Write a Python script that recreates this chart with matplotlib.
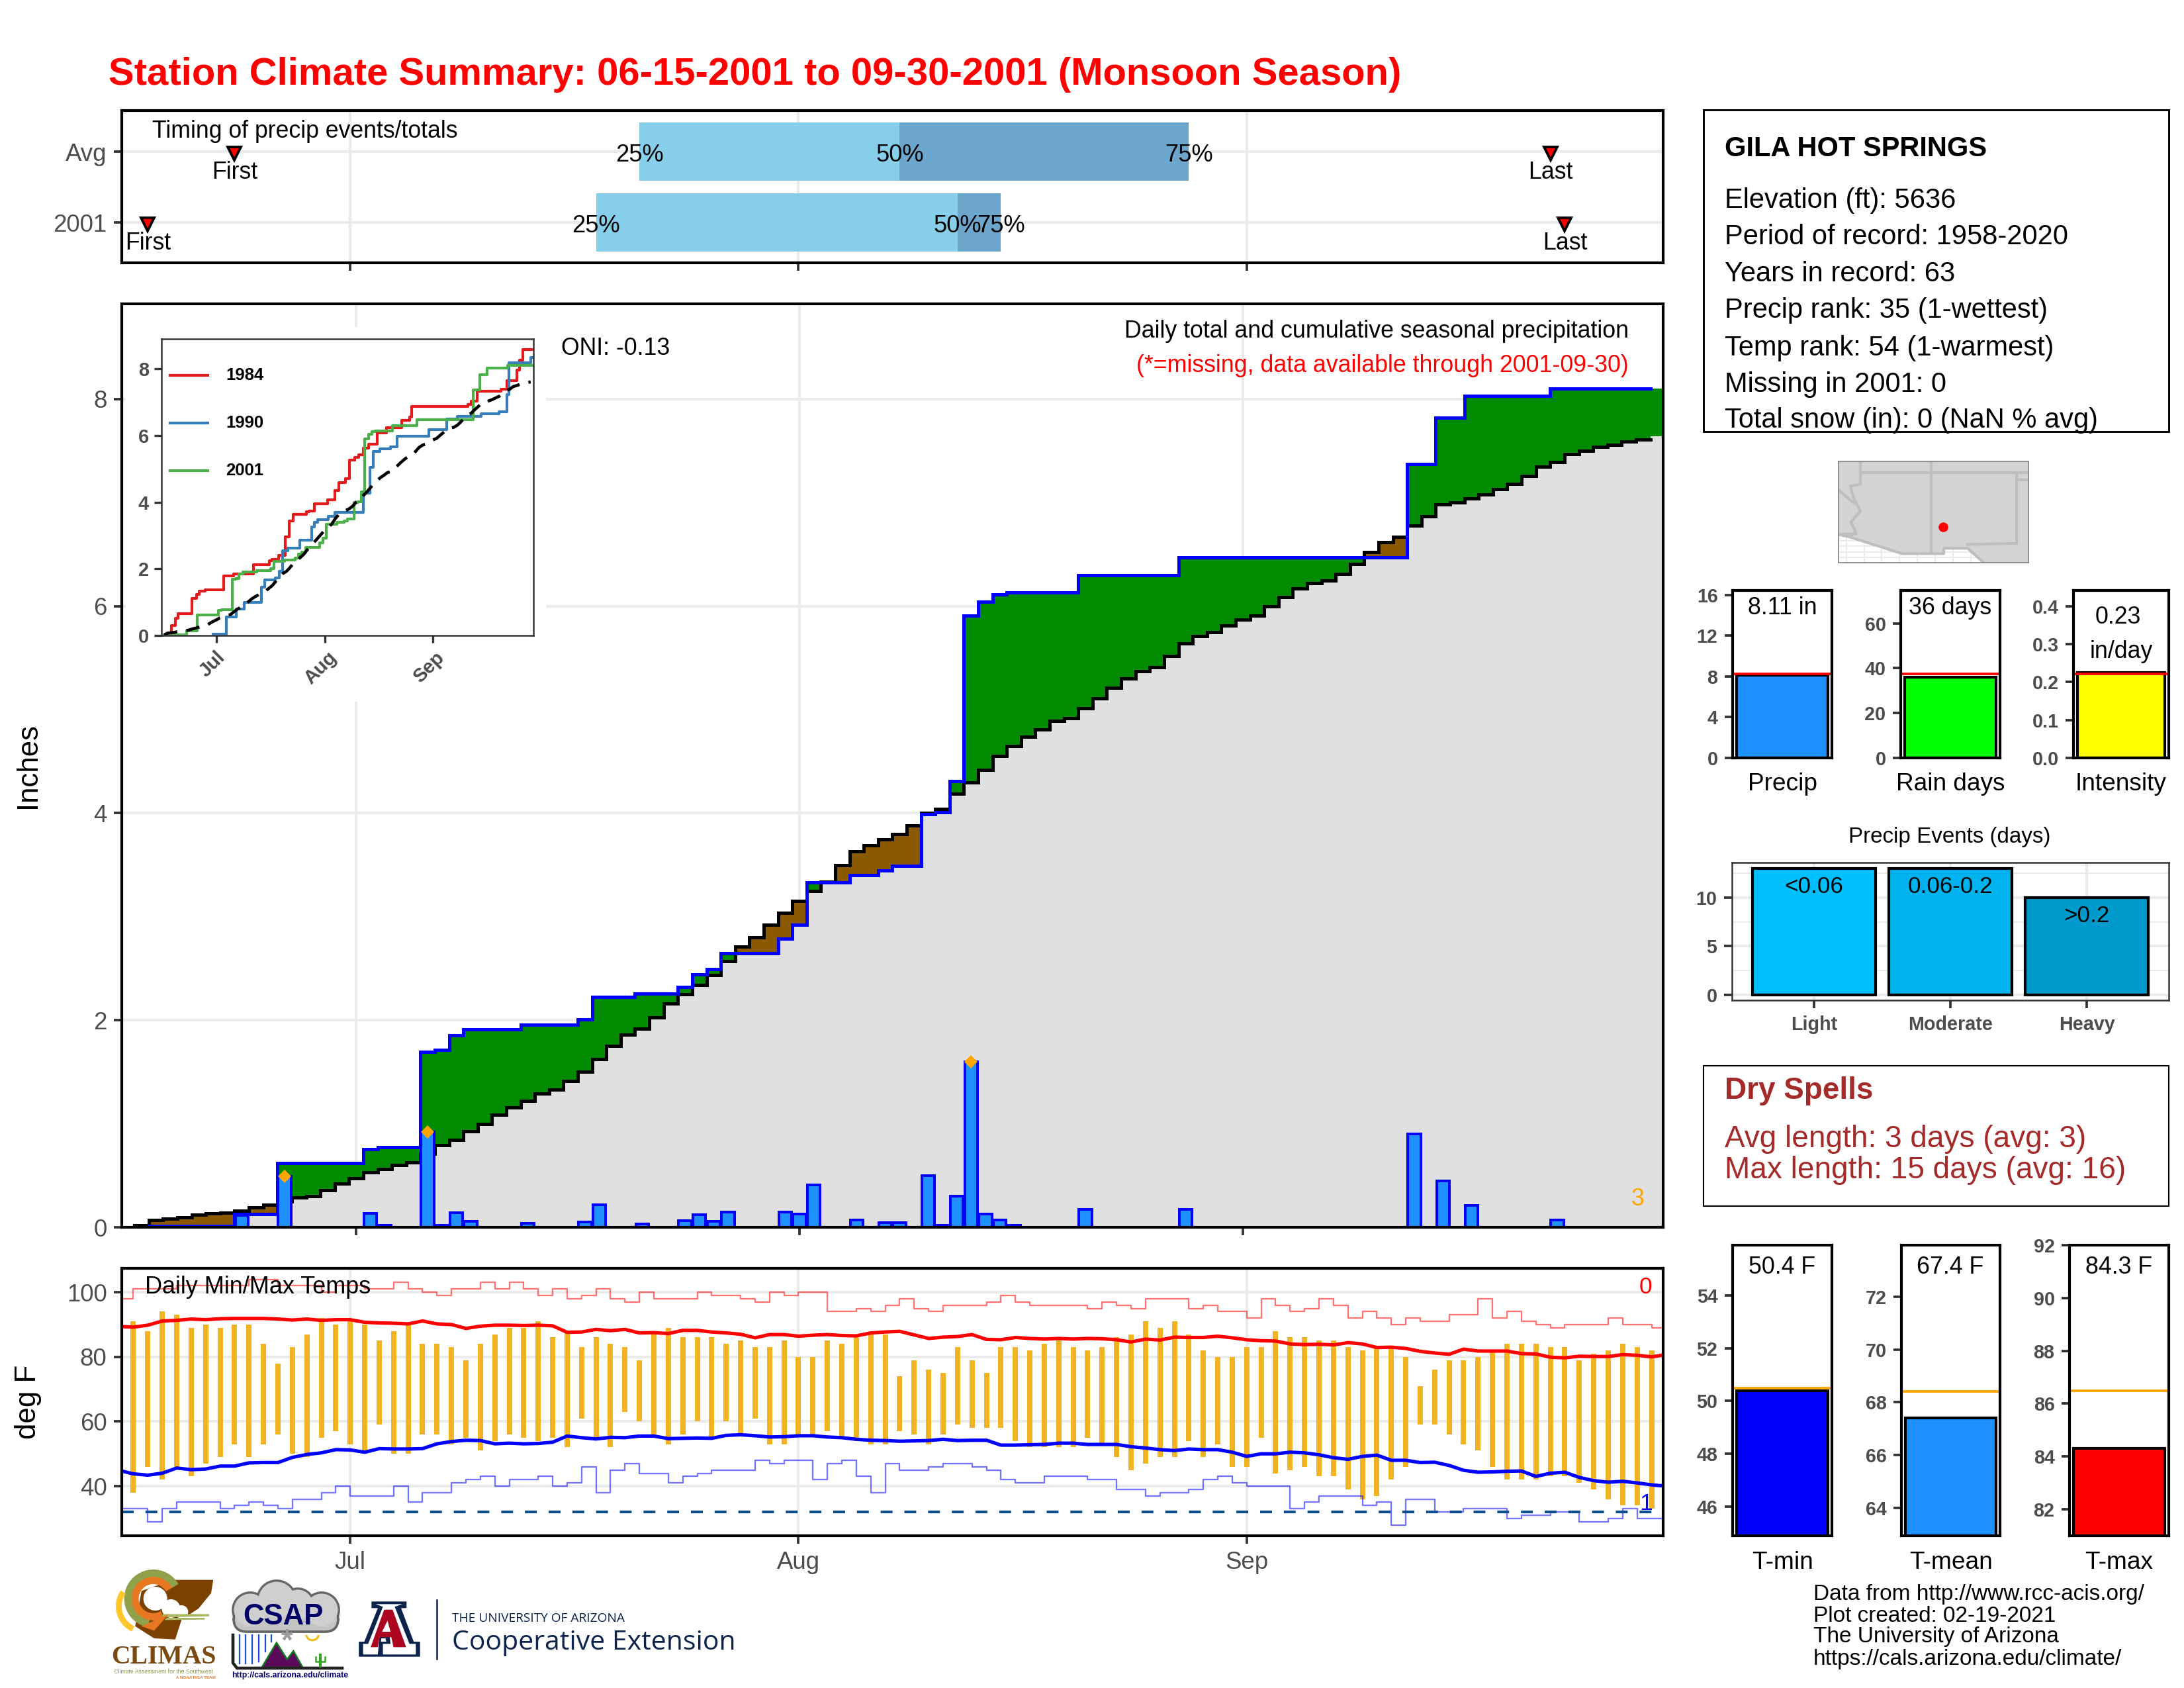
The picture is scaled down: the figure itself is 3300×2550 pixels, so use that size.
import numpy as np
import matplotlib
matplotlib.use("Agg")
import matplotlib.pyplot as plt
from matplotlib.patches import Polygon, Circle, Rectangle, Wedge, FancyBboxPatch
from matplotlib.transforms import ScaledTranslation

plt.rcParams['font.family'] = ['Liberation Sans', 'DejaVu Sans']

W, H, DPI = 3300, 2550, 300
PT = 72 / DPI
GREY = '#4D4D4D'
GRID = '#EBEBEB'
TICK = '#333333'

# ---------- precipitation (day index: 15 Jun = 0) ----------
rain_days = [2, 8, 11, 17, 18, 21, 22, 23, 24, 28, 32, 33, 36, 39, 40, 41, 42, 46, 47, 48, 51, 53, 54, 56, 57,
             58, 59, 60, 61, 62, 67, 74, 90, 92, 94, 100]
rain_amounts = [.015, .115, .49, .135, .02, .92, .02, .14, .06, .04, .05, .22, .03, .065, .12, .055, .15, .145,
                .13, .41, .07, .045, .045, .50, .02, .30, 1.60, .13, .07, .02, .17, .17, .90, .45, .21, .07]
avg_cum = [.02, .07, .08, .095, .12, .135, .14, .16, .195, .22, .25, .285, .30, .36, .42, .47, .53, .56, .60, .625,
           .71, .79, .845, .93, 1.0, 1.09, 1.16, 1.22, 1.29, 1.33, 1.415, 1.50, 1.625, 1.755, 1.86, 1.92, 2.03,
           2.16, 2.25, 2.34, 2.435, 2.57, 2.71, 2.80, 2.92, 3.04, 3.15, 3.25, 3.34, 3.50, 3.63, 3.69, 3.75, 3.80,
           3.88, 4.0, 4.04, 4.19, 4.30, 4.42, 4.55, 4.65, 4.74, 4.81, 4.89, 4.92, 5.01, 5.11, 5.21, 5.30, 5.37,
           5.41, 5.52, 5.64, 5.71, 5.75, 5.81, 5.87, 5.91, 6.00, 6.09, 6.17, 6.22, 6.25, 6.31, 6.41, 6.52, 6.62,
           6.67, 6.78, 6.87, 6.98, 7.00, 7.04, 7.08, 7.13, 7.18, 7.26, 7.35, 7.39, 7.47, 7.50, 7.54, 7.56, 7.59,
           7.61]
top3_days = [11, 21, 59]
month_names = ['Jul', 'Aug', 'Sep']
month_days = [16, 47, 78]

# ---------- inset analog years ----------
y1984_days = [0, 3, 4.2, 5, 9, 10.3, 11, 12.7, 18.1, 20.9, 26.6, 31.2, 32, 33.9, 35.7, 36.9, 38, 41.7, 42.6, 44, 47.8,
              50, 51, 53, 54, 55.6, 56.8, 58, 59.5, 62, 64.7, 69, 71.4, 72, 88, 89, 90.7, 97.6, 99.2, 102, 102.8,
              103.8, 107]
y1984_vals = [0, .30, .51, .65, 1.12, 1.23, 1.33, 1.38, 1.79, 1.84, 2.12, 2.24, 2.28, 2.41, 2.96, 3.44, 3.645, 3.71,
              3.74, 3.95, 4.07, 4.35, 4.58, 4.71, 5.27, 5.34, 5.42, 5.62, 5.75, 6.07, 6.24, 6.46, 6.55, 6.87, 6.93,
              7.04, 7.34, 7.40, 7.65, 7.97, 8.27, 8.58, 8.58]
y1990_days = [15, 18.8, 21.6, 24, 28.9, 29.9, 32.9, 34, 35, 36.4, 39.8, 43.2, 44, 44.9, 48, 49.9, 58, 59.9, 61, 62.9,
              65.9, 67.7, 76.8, 81.9, 85, 91.9, 97, 99.2, 99.8, 106, 107]
y1990_vals = [.03, .55, .79, 1.0, 1.46, 1.67, 1.73, 1.92, 2.55, 2.63, 2.87, 3.25, 3.40, 3.48, 3.58, 3.69, 4.28, 5.04,
              5.53, 5.61, 5.67, 5.97, 6.18, 6.50, 6.58, 6.65, 6.71, 7.24, 8.18, 8.35, 8.35]

# ---------- timing panel ----------
timing_rows = ['2001', 'Avg']
pct25 = [33, 36]
pct50 = [58, 54]
pct75 = [61, 74]
first_day = [2, 8]
last_day = [100, 99]

# ---------- temperature ----------
t_max = [91, 88, 94, 93, 89, 90, 89, 90, 90, 84, 78, 83, 87, 92, 90, 91, 90, 85, 88, 90, 84, 84, 83, 79, 84, 87, 89, 89,
         91, 86, 88, 83, 86, 84, 83, 79, 88, 89, 86, 86, 86, 84, 85, 83, 83, 85, 80, 80, 85, 84, 86, 87, 87, 74, 79, 76,
         75, 83, 79, 75, 83, 83, 82, 84, 85, 83, 82, 83, 86, 87, 91, 89, 91, 87, 82, 80, 80, 83, 83, 88, 86, 86, 85, 85,
         83, 82, 83, 83, 80, 71, 76, 79, 79, 80, 82, 84, 84, 84, 83, 83, 79, 81, 82, 84, 83, 82]
t_min = [38, 46, 42, 46, 43, 47, 49, 53, 49, 53, 56, 50, 49, 55, 57, 53, 50, 59, 50, 50, 56, 56, 53, 55, 51, 54, 56, 55,
         54, 55, 52, 61, 55, 52, 63, 60, 56, 53, 56, 60, 55, 60, 56, 61, 53, 53, 56, 56, 57, 55, 54, 53, 53, 57, 56, 53,
         56, 59, 58, 58, 58, 54, 52, 52, 52, 52, 55, 53, 49, 45, 47, 49, 49, 54, 49, 53, 46, 46, 55, 44, 45, 46, 43, 43,
         39, 36, 37, 42, 46, 59, 59, 56, 53, 51, 46, 42, 42, 42, 43, 43, 41, 39, 36, 34, 34, 33]
rec_hi = [98, 101, 101, 101, 102, 102, 102, 102, 102, 104, 104, 102, 102, 102, 100, 102, 102, 101, 101, 103, 101, 100, 99,
          101, 101, 103, 101, 103, 101, 99, 101, 98, 99, 101, 98, 97, 100, 98, 98, 98, 100, 99, 99, 98, 97, 100, 99, 100,
          100, 94, 94, 95, 94, 96, 98, 95, 94, 96, 96, 96, 97, 99, 97, 96, 96, 96, 96, 95, 97, 96, 95, 98, 98, 98, 95, 96,
          94, 94, 92, 98, 96, 94, 95, 98, 96, 92, 94, 92, 90, 92, 91, 91, 93, 93, 98, 92, 94, 91, 90, 89, 90, 90, 90, 92,
          90, 90, 89]
rec_lo = [33, 33, 29, 33, 35, 35, 35, 33, 34, 35, 34, 33, 36, 36, 38, 40, 37, 37, 37, 40, 35, 38, 38, 41, 42, 43, 40, 42,
          42, 43, 40, 41, 46, 38, 45, 47, 44, 44, 41, 43, 44, 45, 45, 45, 48, 47, 48, 48, 42, 47, 48, 43, 38, 47, 45, 45,
          46, 47, 47, 46, 45, 42, 41, 41, 43, 43, 43, 42, 42, 39, 39, 37, 38, 38, 39, 42, 43, 41, 40, 40, 40, 33, 35, 37,
          37, 37, 34, 35, 28, 36, 36, 32, 32, 33, 33, 33, 30, 31, 31, 32, 32, 29, 29, 30, 33, 30, 30]
norm_hi = [89.4, 89.2, 89.8, 91.1, 91.3, 91.7, 91.5, 91.8, 91.9, 91.9, 91.9, 91.7, 91.4, 91.7, 91.3, 91.5, 91.5, 90.7,
           90.5, 90.4, 90.2, 91.1, 90.2, 90.0, 88.8, 89.5, 89.8, 89.8, 89.7, 89.8, 89.6, 87.6, 87.7, 88.5, 88.1, 88.5,
           87.4, 87.5, 87.2, 88.2, 88.2, 87.7, 87.4, 87.0, 85.9, 86.9, 86.9, 86.4, 86.7, 86.9, 86.6, 86.5, 87.4, 87.7,
           87.9, 86.8, 85.7, 86.1, 86.3, 86.9, 85.4, 85.3, 86.0, 85.7, 85.5, 85.7, 85.5, 85.7, 85.6, 85.3, 84.6, 85.5,
           85.2, 86.1, 86.0, 86.0, 86.4, 85.9, 85.3, 85.0, 84.9, 84.0, 83.8, 83.9, 83.7, 84.4, 84.0, 82.9, 83.0, 82.6,
           81.7, 81.2, 80.8, 82.4, 81.8, 81.8, 81.8, 81.0, 80.9, 79.9, 79.7, 80.2, 80.1, 80.1, 80.7, 80.5, 80.0, 80.7]
norm_lo = [44.9, 43.8, 43.4, 44.0, 45.6, 45.1, 45.3, 46.2, 46.2, 47.2, 47.3, 47.3, 48.9, 49.8, 50.3, 51.3, 51.2, 50.5,
           51.6, 51.5, 51.5, 51.6, 53.1, 53.8, 54.2, 54.1, 53.1, 53.3, 53.1, 53.2, 53.6, 55.5, 55.0, 54.6, 55.1, 55.0,
           55.5, 55.5, 54.7, 54.8, 54.9, 54.8, 55.7, 55.9, 55.6, 55.2, 55.3, 55.6, 55.6, 55.2, 55.0, 54.5, 54.2, 54.1,
           53.9, 54.0, 54.1, 54.5, 54.1, 54.2, 54.2, 52.7, 52.7, 52.8, 52.9, 53.3, 53.3, 52.9, 52.9, 52.9, 52.2, 51.8,
           51.3, 51.0, 51.5, 51.3, 51.3, 50.5, 49.2, 50.0, 50.0, 50.5, 50.3, 49.7, 48.8, 48.3, 49.2, 49.6, 48.0, 48.0,
           47.3, 47.4, 46.4, 44.9, 44.3, 44.4, 44.6, 44.7, 43.0, 44.0, 44.3, 42.7, 41.7, 41.2, 41.5, 41.0, 40.4, 40.0]

# ---------- side panels ----------
info_lines = ['Elevation (ft): 5636', 'Period of record: 1958-2020', 'Years in record: 63',
              'Precip rank: 35 (1-wettest)', 'Temp rank: 54 (1-warmest)', 'Missing in 2001: 0',
              'Total snow (in): 0 (NaN % avg)']
event_names = ['Light', 'Moderate', 'Heavy']
event_counts = [13, 13, 10]
event_labels = ['<0.06', '0.06-0.2', '>0.2']
event_colors = ['#00BFFF', '#00B2EE', '#009ACD']
footer_lines = ['Data from http://www.rcc-acis.org/', 'Plot created: 02-19-2021', 'The University of Arizona',
                'https://cals.arizona.edu/climate/']
# map outlines (lon, lat)
us_south_lon = [-115.54, -114.78, -111.07, -108.15, -108.15, -106.47, -105.34]
us_south_lat = [32.62, 32.46, 31.27, 31.27, 31.65, 31.65, 30.63]
station_lon, station_lat = -108.2, 33.16


def axpx(l, t, r, b, **kw):
    return fig.add_axes([l / W, 1 - b / H, (r - l) / W, (b - t) / H], **kw)


def base_style(ax, lw=1.0, color='black', size=8.8, weight='normal'):
    for s in ax.spines.values():
        s.set_linewidth(lw)
        s.set_color(color)
        s.set_zorder(20)
    ax.tick_params(length=2.9, width=0.9, color=TICK, labelcolor=GREY, labelsize=size, pad=2.5)
    for lab in ax.get_xticklabels() + ax.get_yticklabels():
        lab.set_fontweight(weight)
    ax.set_axisbelow(True)


fig = plt.figure(figsize=(W / DPI, H / DPI), dpi=DPI, facecolor='white')

# ================= timing =================
axT = axpx(184, 167, 2513, 397)
axT.set_xlim(0.2, 106.8)
axT.set_ylim(0.43, 2.58)
axT.set_yticks([1, 2], timing_rows)
axT.set_xticks(month_days, [''] * 3)
axT.grid(True, color=GRID, lw=1.0)
base_style(axT)
for r in range(2):
    y = r + 1
    axT.barh(y, pct50[r] - pct25[r], left=pct25[r], height=0.83, color='#87CEEB', zorder=2)
    axT.barh(y, pct75[r] - pct50[r], left=pct50[r], height=0.83, color='#6CA6CD', zorder=2)
    for v, t in zip((pct25[r], pct50[r], pct75[r]), ('25%', '50%', '75%')):
        axT.text(v, y - 0.05, t, ha='center', va='center', fontsize=8.7, color='black', zorder=5)
    for d, t in ((first_day[r], 'First'), (last_day[r], 'Last')):
        axT.plot([d], [y - 0.03], marker='v', ms=5.0, mfc='red', mec='black', mew=0.9, zorder=6)
        axT.text(d, y - 0.29, t, ha='center', va='center', fontsize=8.6, zorder=7)
axT.text(2.3, 2.29, 'Timing of precip events/totals', ha='left', va='center', fontsize=8.55, zorder=6)

# ================= main =================
daily = np.zeros(107)
daily[rain_days] = rain_amounts
cum = np.cumsum(daily)[1:]
days = np.arange(1, 107)
avg = np.array(avg_cum)
edges = np.r_[days - 0.5, 106.5]
rib_x = np.r_[days - 0.5, 106.5, 108]
rib_avg = np.r_[avg, 7.64, 7.64]
rib_cum = np.r_[cum, cum[-1], cum[-1]]

axM = axpx(184, 459, 2513, 1854)
axM.set_xlim(-0.39, 107.4)
axM.set_ylim(0, 8.92)
axM.set_yticks([0, 2, 4, 6, 8])
axM.set_xticks(month_days, [''] * 3)
axM.grid(True, color=GRID, lw=1.0, zorder=0)
base_style(axM)
axM.set_ylabel('Inches', fontsize=10.5, labelpad=0)
axM.yaxis.set_label_coords((63 - 184) / 2329, 0.5)
axM.fill_between(rib_x, 0, np.minimum(rib_avg, rib_cum), step='post', color='#E0E0E0', lw=0, zorder=2)
axM.fill_between(rib_x, rib_avg, np.maximum(rib_avg, rib_cum), step='post', color='#008B00', lw=0, zorder=3)
axM.fill_between(rib_x, rib_cum, np.maximum(rib_avg, rib_cum), step='post', color='#8B5A00', lw=0, zorder=3)
axM.step(edges, np.r_[avg, avg[-1]], where='post', color='black', lw=1.2, solid_joinstyle='miter', zorder=4)
axM.bar(rain_days, rain_amounts, width=0.9, color='#1E90FF', edgecolor='blue', lw=0.95, zorder=5)
axM.step(edges[1:], np.r_[cum[1:], cum[-1]], where='post', color='blue', lw=1.2, solid_joinstyle='miter', zorder=6)
axM.plot(top3_days, daily[top3_days], ls='none', marker='D', ms=3.4, mfc='orange', mec='orange', mew=0, zorder=7)
axM.text(105.6, 0.27, '3', color='orange', fontsize=8.6, ha='center', va='center', zorder=7)

# white plate and inset
axB = axpx(190, 494, 825, 1060, zorder=5)
axB.set_axis_off()
axB.add_patch(Rectangle((0, 0), 1, 1, transform=axB.transAxes, fc='white', ec='none'))
axI = axpx(244, 512, 806, 960, zorder=6)
axI.set_xlim(0.25, 106.8)
axI.set_ylim(0, 8.9)
axI.set_yticks([0, 2, 4, 6, 8])
axI.set_xticks(month_days, month_names)
base_style(axI, lw=0.6, color=TICK, size=7.0, weight='bold')
axI.tick_params(length=2.6, width=0.8, pad=2)
for lab in axI.get_xticklabels():
    lab.set_rotation(45)
    lab.set_ha('center')
    lab.set_transform(lab.get_transform() + ScaledTranslation(-6 / DPI, 0, fig.dpi_scale_trans))
axI.step(y1984_days, y1984_vals, where='post', color='#E41A1C', lw=1.0, label='1984')
axI.step(y1990_days, y1990_vals, where='post', color='#377EB8', lw=1.0, label='1990')
axI.step(edges, np.r_[cum, cum[-1]], where='post', color='#4DAF4A', lw=1.0, label='2001')
axI.plot(days, avg, color='black', lw=1.1, dashes=(4.5, 3))
for i, (c, t) in enumerate(zip(('#E41A1C', '#377EB8', '#4DAF4A'), ('1984', '1990', '2001'))):
    y = [566, 638, 710][i]
    axI.plot([(257 - 244) / 562, (314 - 244) / 562], [1 - (y - 511) / 448] * 2, transform=axI.transAxes, color=c, lw=1.0)
    axI.text((341 - 244) / 562, 1 - (y - 511) / 448, t, transform=axI.transAxes, fontsize=6.2, fontweight='bold',
             ha='left', va='center')

# ================= temperatures =================
axC = axpx(184, 1916, 2513, 2320)
axC.set_xlim(0.2, 106.8)
axC.set_ylim(24.65, 107.4)
axC.set_yticks([40, 60, 80, 100])
axC.set_xticks(month_days, month_names)
axC.grid(True, color=GRID, lw=1.0, zorder=0)
base_style(axC)
axC.set_ylabel('deg F', fontsize=10.5)
axC.yaxis.set_label_coords((63 - 184) / 2329, 0.5)
tdays = np.arange(1, len(t_max) + 1)
axC.vlines(tdays, t_min, t_max, color='#F0B323', lw=8 * PT, capstyle='butt', zorder=3)
xr = np.arange(len(rec_hi) + 1)
axC.step(xr, rec_hi + rec_hi[-1:], where='post', color='red', lw=0.55, alpha=0.55, zorder=3)
xl = np.arange(len(rec_lo) + 1)
axC.step(xl, rec_lo + rec_lo[-1:], where='post', color='blue', lw=0.55, alpha=0.55, zorder=3)
axC.plot(np.arange(len(norm_hi)), norm_hi, color='red', lw=1.25, zorder=4)
axC.plot(np.arange(len(norm_lo)), norm_lo, color='blue', lw=1.25, zorder=4)
axC.axhline(32, color='#104E8B', lw=1.0, dashes=(4.3, 4.3), zorder=4)
axC.text(1.8, 101.6, 'Daily Min/Max Temps', fontsize=8.65, ha='left', va='center', zorder=6)
axC.text(105.6, 101.6, '0', color='red', fontsize=8.5, ha='center', va='center', zorder=6)
axC.text(105.6, 34.5, '1', color='blue', fontsize=8.5, ha='center', va='center', zorder=6)

# ================= right-hand boxes =================
ov = fig.add_axes([0, 0, 1, 1], zorder=10)
ov.set_xlim(0, W)
ov.set_ylim(H, 0)
ov.set_axis_off()
ov.patch.set_alpha(0)

ov.text(164, 113, 'Station Climate Summary: 06-15-2001 to 09-30-2001 (Monsoon Season)', color='red',
        fontweight='bold', fontsize=13.93, ha='left', va='center')
ov.text(848, 526, 'ONI: -0.13', fontsize=8.55, ha='left', va='center')
ov.text(2461, 501, 'Daily total and cumulative seasonal precipitation', fontsize=8.6, ha='right', va='center')
ov.text(2461, 553, '(*=missing, data available through 2001-09-30)', fontsize=8.6, color='red', ha='right', va='center')

ov.add_patch(Rectangle((2574, 166), 703, 486, fc='white', ec='black', lw=0.7))
ov.text(2606, 225, 'GILA HOT SPRINGS', fontweight='bold', fontsize=10, ha='left', va='center')
for t, y in zip(info_lines, (303, 358, 414, 469, 526, 581, 635)):
    ov.text(2606, y, t, fontsize=10, ha='left', va='center')

ov.add_patch(Rectangle((2574, 1610), 703, 212, fc='white', ec='black', lw=0.5))
ov.text(2606, 1648, 'Dry Spells', fontweight='bold', fontsize=11, color='#A52A2A', ha='left', va='center')
ov.text(2606, 1721, 'Avg length: 3 days (avg: 3)', fontsize=11.04, color='#A52A2A', ha='left', va='center')
ov.text(2606, 1768, 'Max length: 15 days (avg: 16)', fontsize=11.04, color='#A52A2A', ha='left', va='center')

for t, y in zip(footer_lines, (2409, 2441, 2473, 2506)):
    ov.text(2740, y, t, fontsize=8.03, ha='left', va='center')

# ----- map -----
axG = axpx(2778, 697, 3065, 850)
axG.set_xlim(-115.54, -102.2)
axG.set_ylim(30.63, 37.81)
axG.set_xticks(np.arange(-115, -102, 1.25))
axG.set_yticks(np.arange(31, 37, 0.4))
axG.grid(True, color=GRID, lw=0.5, zorder=0)
axG.tick_params(length=0, labelbottom=False, labelleft=False)
for s in axG.spines.values():
    s.set_linewidth(0.4)
    s.set_color('#7F7F7F')
    s.set_zorder(20)
axG.set_axisbelow(True)
poly = list(zip(us_south_lon, us_south_lat)) + [(-102.2, 30.63), (-102.2, 37.81), (-115.54, 37.81)]
axG.add_patch(Polygon(poly, closed=True, fc='#D3D3D3', ec='none', zorder=2))
map_lines = [
    (us_south_lon, us_south_lat),
    ([-114.0, -114.0, -102.2], [37.81, 37.0, 37.0]),
    ([-109.05, -109.05], [37.81, 31.27]),
    ([-103.04, -103.04, -106.47], [37.0, 32.0, 31.92]),
    ([-103.04, -102.2], [36.5, 36.5]),
    ([-114.0, -114.0, -114.71, -114.44, -114.0, -114.67, -114.33, -114.78],
     [37.0, 36.19, 36.05, 35.11, 34.3, 33.49, 32.81, 32.46]),
    ([-115.54, -114.44], [35.78, 34.84]),
    ([-115.54, -114.33], [32.62, 32.68]),
]
for lx, ly in map_lines:
    axG.plot(lx, ly, color='#BEBEBE', lw=1.0, zorder=3)
axG.plot([station_lon], [station_lat], 'o', color='red', ms=3.5, mew=0, zorder=5)


def small_bar(l, r, t, b, value, ref, ylim, ticks, ticklabels, color, refcolor, name, name_y, lab=None):
    ax = axpx(l, t, r, b)
    ax.set_xlim(-0.53, 0.53)
    ax.set_ylim(*ylim)
    ax.set_xticks([])
    ax.set_yticks(ticks, ticklabels)
    base_style(ax, lw=1.0, color='black', size=6.9, weight='bold')
    ax.bar([0], [value], width=0.97, color=color, edgecolor='black', lw=1.0, zorder=3)
    ax.axhline(ref, color=refcolor, lw=0.9, zorder=4)
    ov.text((l + r) / 2, name_y, name, fontsize=8.9, ha='center', va='center')
    return ax


small_bar(2618, 2768, 892, 1145, 8.11, 8.27, (0, 16.43), [0, 4, 8, 12, 16], ['0', '4', '8', '12', '16'],
          '#1E90FF', 'red', 'Precip', 1185)
ov.text(2693, 919, '8.11 in', fontsize=8.6, ha='center', va='center')
small_bar(2872, 3022, 892, 1145, 36, 37.5, (0, 74.6), [0, 20, 40, 60], ['0', '20', '40', '60'],
          '#00FF00', 'red', 'Rain days', 1185)
ov.text(2947, 919, '36 days', fontsize=8.6, ha='center', va='center')
small_bar(3133, 3277, 892, 1145, 0.225, 0.222, (0, 0.441), [0, .1, .2, .3, .4], ['0.0', '0.1', '0.2', '0.3', '0.4'],
          '#FFFF00', 'red', 'Intensity', 1185)
ov.text(3200, 932, '0.23', fontsize=8.6, ha='center', va='center')
ov.text(3205, 984, 'in/day', fontsize=8.6, ha='center', va='center')

# ----- events -----
axE = axpx(2617, 1303, 3277, 1511)
axE.set_xlim(-0.6, 2.6)
axE.set_ylim(-0.57, 13.6)
axE.set_xticks(range(3), event_names)
axE.set_yticks([0, 5, 10])
axE.set_yticks([2.5, 7.5, 12.5], minor=True)
axE.grid(True, which='major', color=GRID, lw=1.0)
axE.grid(True, which='minor', axis='y', color=GRID, lw=0.5)
base_style(axE, lw=0.6, color=TICK, size=6.9, weight='bold')
axE.tick_params(which='minor', length=0)
axE.bar(range(3), event_counts, width=0.9, color=event_colors, edgecolor='black', lw=1.0, zorder=3)
for i in range(3):
    axE.text(i, event_counts[i] - 1.9, event_labels[i], fontsize=8.4, ha='center', va='center', zorder=5)
ov.text(2946, 1265, 'Precip Events (days)', fontsize=7.95, ha='center', va='center')

# ----- temperature bars -----
small_bar(2618, 2768, 1881, 2320, 50.4, 50.5, (44.9, 55.9), [46, 48, 50, 52, 54], ['46', '48', '50', '52', '54'],
          '#0000FF', 'orange', 'T-min', 2361)
ov.text(2693, 1915, '50.4 F', fontsize=8.6, ha='center', va='center')
small_bar(2873, 3022, 1881, 2320, 67.4, 68.42, (62.95, 73.95), [64, 66, 68, 70, 72], ['64', '66', '68', '70', '72'],
          '#1E90FF', 'orange', 'T-mean', 2361)
ov.text(2947, 1915, '67.4 F', fontsize=8.6, ha='center', va='center')
small_bar(3127, 3277, 1881, 2320, 84.3, 86.5, (81, 92), [82, 84, 86, 88, 90, 92], ['82', '84', '86', '88', '90', '92'],
          '#FF0000', 'orange', 'T-max', 2361)
ov.text(3202, 1915, '84.3 F', fontsize=8.6, ha='center', va='center')


# ================= logos =================
def z(xz, yz):
    return 150 + xz / 1.568, 2340 + yz / 3


def zpoly(pts, **kw):
    ov.add_patch(Polygon([z(*p) for p in pts], closed=True, **kw))


# CLIMAS emblem
zpoly([(175, 140), (270, 140), (265, 200), (235, 270), (195, 320), (180, 410), (130, 405), (85, 350), (100, 190)],
      fc='#7A4100', ec='none')
cx, cy = z(128, 225)
ov.add_patch(Wedge((cx, cy), 44, 100, 330, width=12, fc='#8FA14B', ec='none'))
ov.add_patch(Wedge((cx, cy), 33, 60, 330, width=11, fc='#E87722', ec='none'))
ov.add_patch(Circle((cx + 3, cy), 18, fc='white', ec='none'))
ov.add_patch(Circle(z(170, 270), 14, fc='white', ec='none'))
ov.add_patch(Circle(z(195, 285), 10, fc='white', ec='none'))
ov.add_patch(Wedge(z(105, 260), 42, 115, 215, width=9, fc='#FFC72C', ec='none'))
zpoly([(150, 295), (260, 295), (260, 305), (150, 310)], fc='#A9B866', ec='none')
zpoly([(160, 312), (250, 312), (250, 320), (155, 322)], fc='#A9B866', ec='none')
zpoly([(100, 350), (165, 295), (130, 370)], fc='#E87722', ec='none')
ov.text(*z(152, 490), 'CLIMAS', family='Liberation Serif', fontweight='bold', fontsize=9.5, color='#7A4A12',
        ha='center', va='center')
ov.text(*z(152, 556), 'Climate Assessment for the Southwest', fontsize=2.1, color='#8C9A4A', ha='center', va='center')
ov.text(*z(228, 582), 'A NOAA RISA TEAM', fontsize=1.5, fontweight='bold', color='#E87722', ha='center', va='center')

# CSAP
for (xc, yc, r) in ((418, 2417, 29), (378, 2432, 26), (486, 2432, 26), (450, 2424, 24)):
    ov.add_patch(Circle((xc, yc), r, fc='#CFCFCF', ec='#666666', lw=0.9))
ov.add_patch(FancyBboxPatch((353, 2428), 158, 37, boxstyle='round,pad=0,rounding_size=20', fc='#C4C4C4', ec='#666666',
                            lw=0.9))
for (xc, yc, r) in ((418, 2417, 27.5), (378, 2432, 24.5), (486, 2432, 24.5), (450, 2424, 22.5)):
    ov.add_patch(Circle((xc, yc), r, fc='#CFCFCF', ec='none'))
ov.text(428, 2442, 'CSAP', fontweight='bold', fontsize=10.5, color='#000066', ha='center', va='center')
for xl_, yb in ((362, 2513), (371, 2513), (381, 2513), (391, 2510), (401, 2495), (410, 2480)):
    ov.plot([xl_, xl_], [2470, yb], color='#1F4FD8', lw=0.55)
ov.plot([352, 352, 358, 517], [2470, 2512, 2520, 2520], color='#222222', lw=1.1)
zpoly([(385, 537), (420, 425), (445, 500), (460, 462), (482, 537)], fc='#5B0A5B', ec='#0F7A1E', lw=0.6)
ov.text(434, 2481, '*', fontsize=11, fontweight='bold', color='#9A9A9A', ha='center', va='center')
ov.add_patch(Wedge(z(505, 385), 11, 10, 170, width=3, fc='#F2B90F', ec='none'))
ov.plot(*zip(z(523, 480), z(523, 530)), color='#3BA02A', lw=1.0)
ov.plot(*zip(z(512, 490), z(512, 510), z(535, 510), z(535, 490)), color='#3BA02A', lw=0.6)
ov.text(438, 2531, 'http://cals.arizona.edu/climate', fontsize=2.95, fontweight='bold', color='#000066', ha='center',
        va='center')

# Arizona block A
NAVY = '#0C234B'
zpoly([(645, 238), (728, 238), (728, 268), (715, 268), (745, 420), (760, 420), (760, 488), (665, 488), (665, 420),
       (680, 420), (678, 405), (668, 405), (665, 488), (615, 488), (615, 420), (628, 420), (660, 268), (645, 268)],
      fc=NAVY, ec='none')
zpoly([(655, 250), (718, 250), (700, 262), (735, 430), (750, 430), (750, 478), (672, 478), (672, 430), (690, 430),
       (688, 395), (664, 395), (660, 478), (625, 478), (625, 430), (637, 430), (672, 262)], fc='white', ec='none')
zpoly([(675, 275), (695, 275), (727, 445), (697, 445), (692, 400), (664, 400), (660, 445), (643, 445)], fc='#AB0520',
      ec='none')
zpoly([(683, 325), (690, 375), (670, 375)], fc='white', ec='none')
ov.plot(*zip(z(800, 230), z(800, 497)), color=NAVY, lw=0.6)
ov.text(*z(835, 315), 'THE UNIVERSITY OF ARIZONA', fontsize=4.6, color=NAVY, ha='left', va='center', family='Open Sans')
ov.text(*z(835, 426), 'Cooperative Extension', fontsize=9.85, color=NAVY, ha='left', va='center', family='Open Sans')

fig.savefig('out.png', dpi=DPI, facecolor='white')
